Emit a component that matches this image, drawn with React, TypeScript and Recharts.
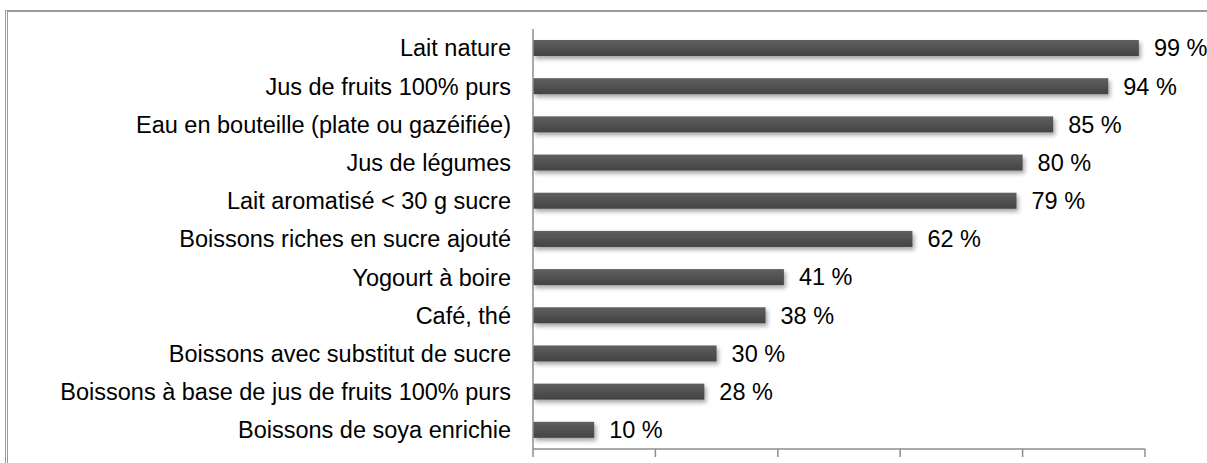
import { Bar, BarChart, LabelList, XAxis, YAxis } from "recharts";

const categories = [
  "Lait nature",
  "Jus de fruits 100% purs",
  "Eau en bouteille (plate ou gazéifiée)",
  "Jus de légumes",
  "Lait aromatisé < 30 g sucre",
  "Boissons riches en sucre ajouté ",
  "Yogourt à boire",
  "Café, thé",
  "Boissons avec substitut de sucre ",
  "Boissons à base de jus de fruits 100% purs",
  "Boissons de soya enrichie",
];

const values = [99, 94, 85, 80, 79, 62, 41, 38, 30, 28, 10];

const xTicks = [0, 20, 40, 60, 80, 100];

const data = categories.map((name, i) => ({ name, value: values[i] }));

const FONT = "'Liberation Sans', Arial, Helvetica, sans-serif";
const AXIS = "#8e8e8e";
const FS = 23.5;

export default function App() {
  return (
    <div style={{ position: "absolute", left: 0, top: 0, width: 1207, height: 463, background: "#fff", overflow: "hidden" }}>
      <div
        style={{
          position: "absolute",
          left: 5,
          top: 10,
          width: 1300,
          height: 600,
          borderTop: "2px solid #9a9a9a",
          borderLeft: "3px double #9a9a9a",
        }}
      />
      <BarChart
        width={1207}
        height={463}
        data={data}
        layout="vertical"
        margin={{ top: 29, right: 62, bottom: 0, left: 0 }}
        barSize={16}
        style={{ position: "absolute", left: 0, top: 0, fontFamily: FONT }}
      >
        <defs>
          <linearGradient id="barGrad" x1="0" y1="0" x2="0" y2="1">
            <stop offset="0%" stopColor="#606060" />
            <stop offset="100%" stopColor="#434343" />
          </linearGradient>
          <filter id="shadow" x="-5%" y="-40%" width="115%" height="200%">
            <feDropShadow dx="2" dy="3" stdDeviation="2" floodColor="#000" floodOpacity="0.35" />
          </filter>
        </defs>
        <XAxis
          type="number"
          domain={[0, 100]}
          ticks={xTicks}
          height={14}
          tickSize={8}
          tickFormatter={() => ""}
          axisLine={{ stroke: AXIS, strokeWidth: 1.5 }}
          tickLine={{ stroke: AXIS, strokeWidth: 1.5 }}
        />
        <YAxis
          type="category"
          dataKey="name"
          width={533}
          tickLine={false}
          tickSize={6}
          tickMargin={16}
          axisLine={{ stroke: AXIS, strokeWidth: 1.5 }}
          interval={0}
          tick={{ fill: "#000", fontSize: FS, fontFamily: FONT }}
        />
        <Bar
          dataKey="value"
          fill="url(#barGrad)"
          isAnimationActive={false}
          shape={(p: any) => (
            <rect x={p.x} y={p.y} width={p.width} height={p.height} fill="url(#barGrad)" filter="url(#shadow)" />
          )}
        >
          <LabelList
            dataKey="value"
            position="right"
            offset={15}
            formatter={(v: any) => `${v} %`}
            style={{ fill: "#000", fontSize: FS, fontFamily: FONT }}
          />
        </Bar>
      </BarChart>
    </div>
  );
}
